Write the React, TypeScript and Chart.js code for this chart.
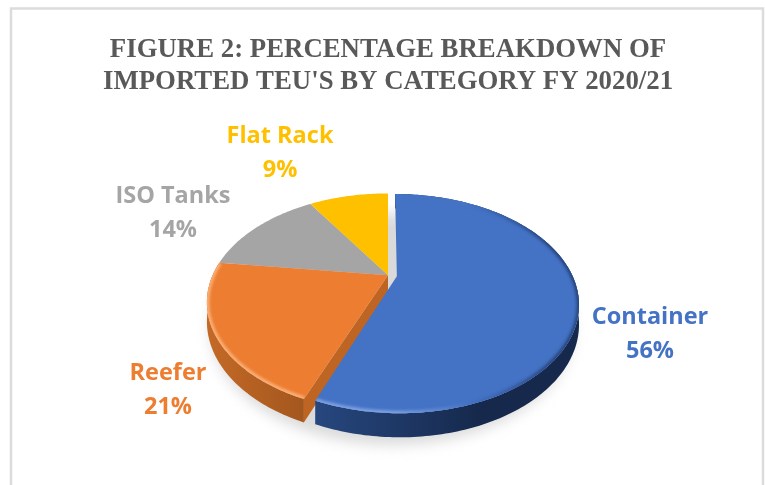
import React, { useEffect, useRef } from "react";
import { Chart, registerables } from "chart.js";

Chart.register(...registerables);

const categories = ["Container", "Reefer", "ISO Tanks", "Flat Rack"];
const shares = [56, 21, 14, 9];
const sliceColors = ["#4472C4", "#ED7D31", "#A5A5A5", "#FFC000"];
const wallColors = [
  ["#27477F", "#16294C"],
  ["#C56A27", "#8E4A17"],
];
const cutFaceColor = "#BE6524";
const rimColors = [
  ["#7FA3E4", "#4472C4", "#27457F"],
  ["#FBB27A", "#FBA566", "#F49A56"],
];
const titleLines = ["FIGURE 2: PERCENTAGE BREAKDOWN OF", "IMPORTED TEU'S BY CATEGORY FY 2020/21"];

// Text placement for the slice captions, and the shape of the tilted view.
const captionCentres = [
  { x: 650, y: 317 },
  { x: 168, y: 373 },
  { x: 173, y: 196 },
  { x: 280, y: 136 },
];
const TILT = 0.583;
const PERSPECTIVE = 0.25;
const WALL_DEPTH = 18;

type Pt = { x: number; y: number };

// Maps a point on the unit pie plane to the screen, receding toward the top.
function projector(cx: number, cy: number, r: number) {
  return (u: number, v: number, drop = 0): Pt => {
    const w = 1 + PERSPECTIVE * v;
    return { x: cx + (r * u) / w, y: cy - (r * TILT * v) / w + drop / w };
  };
}

function trace(ctx: CanvasRenderingContext2D, pts: Pt[]) {
  ctx.beginPath();
  pts.forEach((p, i) => (i ? ctx.lineTo(p.x, p.y) : ctx.moveTo(p.x, p.y)));
  ctx.closePath();
}

const tiltedPie = {
  id: "tiltedPie",
  beforeDraw(chart: any) {
    const { ctx, width, height } = chart;
    ctx.save();
    ctx.fillStyle = "#ffffff";
    ctx.fillRect(0, 0, width, height);
    ctx.strokeStyle = "#DCDCDC";
    ctx.lineWidth = 2.5;
    ctx.strokeRect(11, 8.5, 752, height + 20);
    ctx.restore();
  },
  beforeDatasetDraw(chart: any) {
    const { ctx } = chart;
    const arcs = chart.getDatasetMeta(0).data;
    const { x: cx, y: cy, outerRadius: r } = arcs[0].getProps(["x", "y", "outerRadius"], true);
    const project = projector(cx, cy, r);

    const slices = arcs.map((arc: any, index: number) => {
      const { startAngle, endAngle } = arc.getProps(["startAngle", "endAngle"], true);
      const mid = (startAngle + endAngle) / 2;
      const shift = (arc.options.offset || 0) / r;
      const ox = Math.cos(mid) * shift;
      const oy = -Math.sin(mid) * shift;
      const steps = Math.max(8, Math.round(((endAngle - startAngle) * 180) / Math.PI));
      const rim: [number, number][] = [];
      for (let i = 0; i <= steps; i++) {
        const a = startAngle + ((endAngle - startAngle) * i) / steps;
        rim.push([ox + Math.cos(a), oy - Math.sin(a)]);
      }
      return { index, rim, apex: [ox, oy] as [number, number] };
    });

    // Soft ground shadow below the pie
    ctx.save();
    ctx.filter = "blur(7px)";
    ctx.fillStyle = "#DADADA";
    const ground: Pt[] = [];
    for (let d = 0; d < 360; d += 2) {
      const a = (d * Math.PI) / 180;
      ground.push(project(0.02 + Math.cos(a), -Math.sin(a), WALL_DEPTH + 7));
    }
    trace(ctx, ground);
    ctx.fill();
    ctx.restore();

    // Back to front: the small slices first, the pulled-out one last.
    [2, 3, 1, 0].forEach((i) => {
      const s = slices[i];
      const leftX = cx - r * 1.05;
      const rightX = cx + r * 1.05;
      const outer: Pt[] = s.rim.map(([u, v]: number[]) => project(u, v));
      const top = [project(s.apex[0], s.apex[1]), ...outer];

      if (i < 2) {
        // Outer wall, only where it faces the viewer
        const wall = ctx.createLinearGradient(leftX, 0, rightX, 0);
        if (i === 1) {
          wall.addColorStop(0, wallColors[1][0]);
          wall.addColorStop(0.45, wallColors[1][1]);
        } else {
          wall.addColorStop(0.3, wallColors[0][0]);
          wall.addColorStop(0.75, wallColors[0][1]);
        }
        wall.addColorStop(1, wallColors[i][1]);
        const lower: Pt[] = s.rim.map(([u, v]: number[]) => project(u, v, WALL_DEPTH)).reverse();
        ctx.fillStyle = wall;
        trace(ctx, [...outer, ...lower]);
        ctx.fill();
      }

      if (i === 1) {
        // Radial cut face looking into the gap beside the pulled-out slice
        const edge = s.rim[0];
        ctx.fillStyle = cutFaceColor;
        trace(ctx, [
          project(s.apex[0], s.apex[1]),
          project(edge[0], edge[1]),
          project(edge[0], edge[1], WALL_DEPTH),
          project(s.apex[0], s.apex[1], WALL_DEPTH),
        ]);
        ctx.fill();
      }

      // Top face
      ctx.fillStyle = sliceColors[i];
      trace(ctx, top);
      ctx.fill();

      // Bevelled rim, kept inside the top face
      if (i < 2) {
        ctx.save();
        trace(ctx, top);
        ctx.clip();
        const bevel = ctx.createLinearGradient(cx - r * 0.5, 0, rightX, 0);
        bevel.addColorStop(0, rimColors[i][0]);
        bevel.addColorStop(0.35, rimColors[i][0]);
        bevel.addColorStop(0.62, rimColors[i][1]);
        bevel.addColorStop(0.92, rimColors[i][2]);
        ctx.filter = "blur(1.5px)";
        ctx.strokeStyle = bevel;
        ctx.lineWidth = 5;
        ctx.beginPath();
        const lit = i === 0 ? s.rim.map(([u, v]: number[]) => !(v > 0 && u < 0.5)) : s.rim.map(() => true);
        let drawing = false;
        outer.forEach((p: Pt, n: number) => {
          if (!lit[n]) return;
          if (drawing) ctx.lineTo(p.x, p.y);
          else ctx.moveTo(p.x, p.y);
          drawing = true;
        });
        ctx.stroke();
        ctx.restore();
      }
    });
    return false;
  },
  afterDatasetsDraw(chart: any) {
    const { ctx } = chart;
    const values = chart.data.datasets[0].data;
    ctx.save();
    ctx.textAlign = "center";
    ctx.textBaseline = "middle";
    ctx.font = '700 23.5px "Open Sans"';
    chart.data.labels.forEach((name: string, i: number) => {
      const at = captionCentres[i];
      ctx.fillStyle = sliceColors[i];
      ctx.fillText(name, at.x, at.y);
      ctx.fillText(`${values[i]}%`, at.x, at.y + 34);
    });
    ctx.restore();
  },
};

export default function App() {
  const canvasRef = useRef<HTMLCanvasElement | null>(null);

  useEffect(() => {
    const chart = new Chart(canvasRef.current as HTMLCanvasElement, {
      type: "pie",
      data: {
        labels: categories,
        datasets: [{ data: shares, backgroundColor: sliceColors, offset: [9, 0, 0, 0], borderWidth: 0 }],
      },
      plugins: [tiltedPie],
      options: {
        responsive: false,
        animation: false,
        layout: { padding: { left: 50, right: 39, top: 0, bottom: 30 } },
        plugins: {
          legend: { display: false },
          tooltip: { enabled: false },
          title: {
            display: true,
            text: titleLines,
            color: "#595959",
            font: { family: '"Liberation Serif"', size: 26.8, weight: "bold", lineHeight: 1.2 },
            padding: { top: 34, bottom: -3 },
          },
        },
      },
    } as any);
    return () => chart.destroy();
  }, []);

  return (
    <div style={{ position: "fixed", left: 0, top: 0, width: 765, height: 485, background: "#fff" }}>
      <canvas ref={canvasRef} width={765} height={485} style={{ display: "block" }} />
    </div>
  );
}
